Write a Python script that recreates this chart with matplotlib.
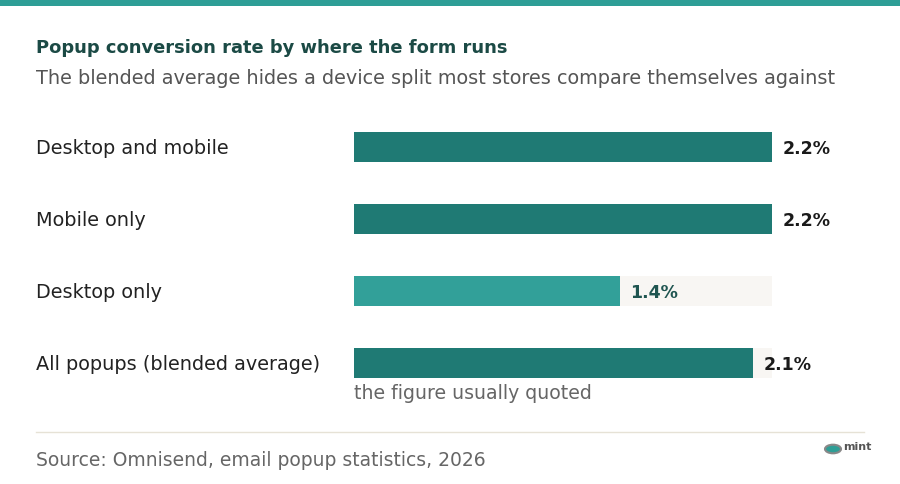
import matplotlib
matplotlib.use("Agg")
import matplotlib.pyplot as plt
from matplotlib.transforms import blended_transform_factory
from matplotlib.patches import Rectangle, Circle

categories = ["Desktop and mobile", "Mobile only", "Desktop only", "All popups (blended average)"]
values = [2.2, 2.2, 1.4, 2.1]
bar_colors = ["#1f7a74", "#1f7a74", "#32a099", "#1f7a74"]
label_colors = ["#1a1a1a", "#1a1a1a", "#1f5550", "#1a1a1a"]
axis_max = 2.2

title = "Popup conversion rate by where the form runs"
subtitle = "The blended average hides a device split most stores compare themselves against"
note = "the figure usually quoted"
source = "Source: Omnisend, email popup statistics, 2026"

W, H = 900, 484
fig = plt.figure(figsize=(W / 100, H / 100), dpi=100)
fig.patch.set_facecolor("white")
plt.rcParams["font.family"] = ["DejaVu Sans"]

# top band
fig.add_artist(Rectangle((0, 1 - 6 / H), 1, 6 / H, transform=fig.transFigure,
                         facecolor="#2e9e96", edgecolor="none"))

fig.text(36 / W, 1 - 48 / H, title, fontsize=12.9, fontweight="bold", color="#1b4a45",
         va="center", ha="left")
fig.text(36 / W, 1 - 78 / H, subtitle, fontsize=13.9, color="#555555",
         va="center", ha="left")

# bar axes: x 354..772 px, y 111..399 px
ax = fig.add_axes([354 / W, 1 - 399 / H, (772 - 354) / W, 288 / H])
ax.set_xlim(0, axis_max)
ax.set_ylim(len(categories) - 0.5, -0.5)
ax.axis("off")
ypos = list(range(len(categories)))
h = 30 / 72
ax.barh(ypos, [axis_max] * len(categories), height=h, color="#f8f6f3", edgecolor="none")
ax.barh(ypos, values, height=h, color=bar_colors, edgecolor="none")

tr = blended_transform_factory(fig.transFigure, ax.transData)
for i, (c, v) in enumerate(zip(categories, values)):
    ax.text(36 / W, i, c, transform=tr, fontsize=13.9, color="#222222",
            va="center_baseline", ha="left")
    ax.annotate(f"{v}%", xy=(v, i), xytext=(7.5, 0), textcoords="offset points",
                fontsize=12.5, fontweight="bold", color=label_colors[i],
                va="center_baseline", ha="left")

ax.annotate(note, xy=(0, 3), xytext=(0, -22), textcoords="offset points",
            fontsize=13.6, color="#666666", va="center", ha="left", annotation_clip=False)

# separator
fig.add_artist(plt.Line2D([36 / W, 864 / W], [1 - 432 / H, 1 - 432 / H],
                          transform=fig.transFigure, color="#e6e2d6", lw=1))
fig.text(36 / W, 1 - 460 / H, source, fontsize=13.5, color="#666666", va="center", ha="left")

# small logo
fig.add_artist(Circle((833 / W, 1 - 449 / H), 8 / W, transform=fig.transFigure,
                      facecolor="#2e9e96", edgecolor="#888888", lw=1.5))
fig.text(843 / W, 1 - 447 / H, "mint", fontsize=8, fontweight="bold", color="#555555",
         va="center", ha="left")

fig.savefig("out.png", dpi=100, facecolor="white")
